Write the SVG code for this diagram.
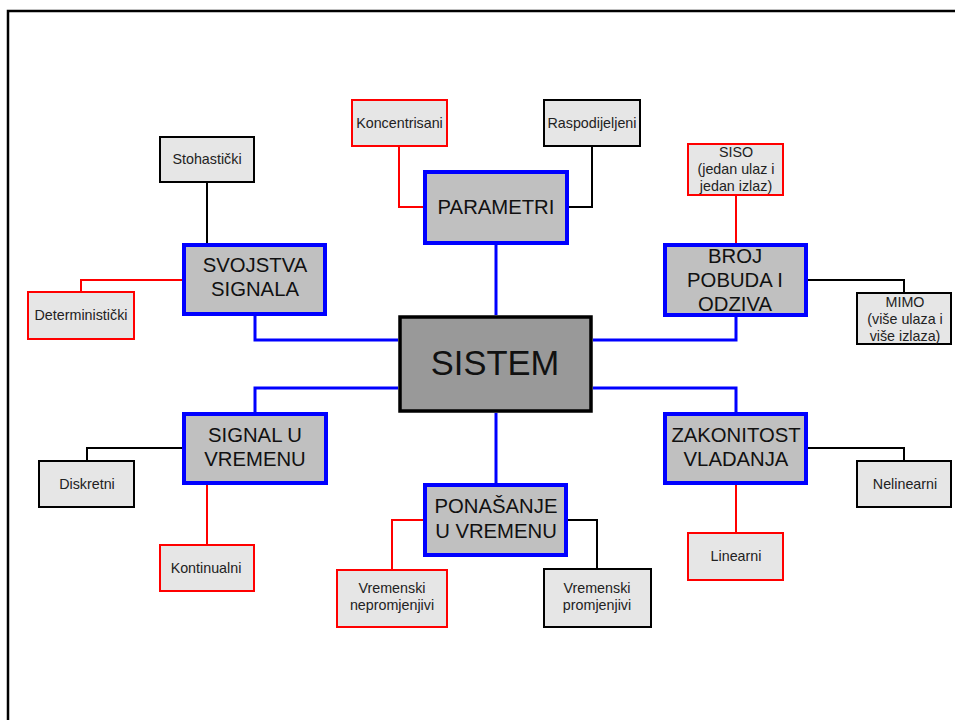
<svg xmlns="http://www.w3.org/2000/svg" width="955" height="720" viewBox="0 0 955 720">
<style>
.main{fill:#c0c0c0;stroke:#0000ff;stroke-width:4}
.core{fill:#999999;stroke:#000;stroke-width:3.5}
.leafR{fill:#e6e6e6;stroke:#ff0000;stroke-width:2}
.leafB{fill:#e6e6e6;stroke:#000;stroke-width:2}
.big{font-family:"Liberation Sans",Arial,sans-serif;font-size:20.3px;fill:#111;text-anchor:middle}
.core-t{font-family:"Liberation Sans",Arial,sans-serif;font-size:34.5px;fill:#111;text-anchor:middle}
.small{font-family:"Liberation Sans",Arial,sans-serif;font-size:14.3px;fill:#222;text-anchor:middle}
.cb{fill:none;stroke:#0000ff;stroke-width:3}
.cr{fill:none;stroke:#ff0000;stroke-width:2}
.ck{fill:none;stroke:#000;stroke-width:2}
</style>
<rect width="955" height="720" fill="#fff"/>
<path d="M8,720 V11 H955" fill="none" stroke="#000" stroke-width="2.5"/>
<g id="connectors">
<path class="cb" d="M496,245 V315"/>
<path class="cb" d="M255,316 V340 H398"/>
<path class="cb" d="M736,317 V340 H593"/>
<path class="cb" d="M398,388 H255 V412"/>
<path class="cb" d="M593,388 H736 V412"/>
<path class="cb" d="M496,413 V483"/>
<path class="cr" d="M399,147 V207 H423"/>
<path class="cr" d="M182,280 H81 V291"/>
<path class="cr" d="M736,196 V243"/>
<path class="cr" d="M207,485 V544"/>
<path class="cr" d="M423,520 H392 V569"/>
<path class="cr" d="M736,485 V532"/>
<path class="ck" d="M592,147 V207 H569"/>
<path class="ck" d="M207,183 V243"/>
<path class="ck" d="M808,280 H904 V292"/>
<path class="ck" d="M182,448 H87 V460"/>
<path class="ck" d="M568,520 H597 V568"/>
<path class="ck" d="M808,448 H904 V460"/>
</g>
<g id="sistem"><rect class="core" x="400" y="317" width="191" height="94"/><text class="core-t" x="495" y="375">SISTEM</text></g>
<g id="parametri"><rect class="main" x="425" y="172" width="142" height="71"/><text class="big" x="496" y="214">PARAMETRI</text></g>
<g id="svojstva"><rect class="main" x="184" y="245" width="141" height="69"/><text class="big" x="255" y="272">SVOJSTVA</text><text class="big" x="255" y="296">SIGNALA</text></g>
<g id="broj"><rect class="main" x="665" y="245" width="141" height="70"/><text class="big" x="735" y="263">BROJ</text><text class="big" x="735" y="287">POBUDA I</text><text class="big" x="735" y="311">ODZIVA</text></g>
<g id="signal"><rect class="main" x="184" y="414" width="142" height="69"/><text class="big" x="255" y="442">SIGNAL U</text><text class="big" x="255" y="466">VREMENU</text></g>
<g id="zakonitost"><rect class="main" x="665" y="414" width="141" height="69"/><text class="big" x="736" y="442">ZAKONITOST</text><text class="big" x="736" y="466">VLADANJA</text></g>
<g id="ponasanje"><rect class="main" x="425" y="485" width="141" height="70"/><text class="big" x="496" y="513">PONAŠANJE</text><text class="big" x="496" y="538">U VREMENU</text></g>
<g id="koncentrisani"><rect class="leafR" x="352" y="100" width="95" height="46"/><text class="small" x="399.5" y="128">Koncentrisani</text></g>
<g id="raspodijeljeni"><rect class="leafB" x="544" y="100" width="96" height="46"/><text class="small" x="592" y="128">Raspodijeljeni</text></g>
<g id="stohasticki"><rect class="leafB" x="160" y="137" width="94" height="45"/><text class="small" x="207" y="164">Stohastički</text></g>
<g id="deterministicki"><rect class="leafR" x="28" y="292" width="106" height="47"/><text class="small" x="81" y="320">Deterministički</text></g>
<g id="siso"><rect class="leafR" x="688" y="144" width="95" height="51"/><text class="small" x="736" y="157">SISO</text><text class="small" x="736" y="174">(jedan ulaz i</text><text class="small" x="736" y="191">jedan izlaz)</text></g>
<g id="mimo"><rect class="leafB" x="857" y="293" width="94" height="51"/><text class="small" x="905" y="307">MIMO</text><text class="small" x="905" y="324">(više ulaza i</text><text class="small" x="905" y="341">više izlaza)</text></g>
<g id="diskretni"><rect class="leafB" x="39" y="461" width="95" height="46"/><text class="small" x="87" y="489">Diskretni</text></g>
<g id="kontinualni"><rect class="leafR" x="160" y="545" width="94" height="46"/><text class="small" x="206" y="573">Kontinualni</text></g>
<g id="nepromjenjivi"><rect class="leafR" x="337" y="570" width="110" height="57"/><text class="small" x="392" y="593">Vremenski</text><text class="small" x="392" y="610">nepromjenjivi</text></g>
<g id="promjenjivi"><rect class="leafB" x="544" y="569" width="107" height="58"/><text class="small" x="597" y="593">Vremenski</text><text class="small" x="597" y="610">promjenjivi</text></g>
<g id="linearni"><rect class="leafR" x="688" y="533" width="95" height="47"/><text class="small" x="736" y="561">Linearni</text></g>
<g id="nelinearni"><rect class="leafB" x="857" y="461" width="94" height="46"/><text class="small" x="905" y="489">Nelinearni</text></g>
</svg>
